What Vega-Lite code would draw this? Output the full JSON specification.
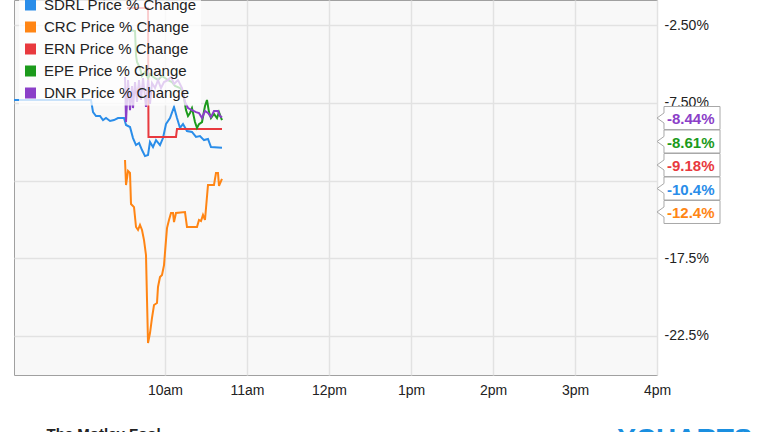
{
  "$schema": "https://vega.github.io/schema/vega-lite/v6.json",
  "width": 643,
  "height": 375,
  "autosize": {"type": "none"},
  "padding": {"left": 14, "top": 0, "right": 107, "bottom": 57},
  "background": "white",
  "config": {
    "font": "Liberation Sans",
    "view": {"stroke": "#a0a0a0", "fill": "#f8f8f8", "strokeWidth": 1},
    "locale": {"number": {"decimal": ".", "thousands": ",", "grouping": [3], "currency": ["$", ""], "minus": "-", "percent": "%"}}
  },
  "datasets": {
    "prices": [
      {"sym": "SDRL", "t": "2016-02-01T08:09:30", "v": -0.0732},
      {"sym": "SDRL", "t": "2016-02-01T09:05:51", "v": -0.0732},
      {"sym": "SDRL", "t": "2016-02-01T09:07:20", "v": -0.0810},
      {"sym": "SDRL", "t": "2016-02-01T09:09:30", "v": -0.0835},
      {"sym": "SDRL", "t": "2016-02-01T09:12:25", "v": -0.0835},
      {"sym": "SDRL", "t": "2016-02-01T09:14:38", "v": -0.0861},
      {"sym": "SDRL", "t": "2016-02-01T09:16:50", "v": -0.0848},
      {"sym": "SDRL", "t": "2016-02-01T09:19:46", "v": -0.0867},
      {"sym": "SDRL", "t": "2016-02-01T09:22:40", "v": -0.0861},
      {"sym": "SDRL", "t": "2016-02-01T09:25:36", "v": -0.0848},
      {"sym": "SDRL", "t": "2016-02-01T09:30:00", "v": -0.0848},
      {"sym": "SDRL", "t": "2016-02-01T09:31:28", "v": -0.0893},
      {"sym": "SDRL", "t": "2016-02-01T09:34:23", "v": -0.0906},
      {"sym": "SDRL", "t": "2016-02-01T09:36:35", "v": -0.0977},
      {"sym": "SDRL", "t": "2016-02-01T09:38:47", "v": -0.1022},
      {"sym": "SDRL", "t": "2016-02-01T09:41:00", "v": -0.1009},
      {"sym": "SDRL", "t": "2016-02-01T09:43:10", "v": -0.1054},
      {"sym": "SDRL", "t": "2016-02-01T09:45:22", "v": -0.1093},
      {"sym": "SDRL", "t": "2016-02-01T09:47:34", "v": -0.1086},
      {"sym": "SDRL", "t": "2016-02-01T09:49:00", "v": -0.1002},
      {"sym": "SDRL", "t": "2016-02-01T09:51:13", "v": -0.1035},
      {"sym": "SDRL", "t": "2016-02-01T09:53:25", "v": -0.0990},
      {"sym": "SDRL", "t": "2016-02-01T09:56:20", "v": -0.1022},
      {"sym": "SDRL", "t": "2016-02-01T09:58:32", "v": -0.0977},
      {"sym": "SDRL", "t": "2016-02-01T10:00:43", "v": -0.0887},
      {"sym": "SDRL", "t": "2016-02-01T10:03:39", "v": -0.0848},
      {"sym": "SDRL", "t": "2016-02-01T10:06:35", "v": -0.0777},
      {"sym": "SDRL", "t": "2016-02-01T10:08:46", "v": -0.0848},
      {"sym": "SDRL", "t": "2016-02-01T10:10:58", "v": -0.0912},
      {"sym": "SDRL", "t": "2016-02-01T10:13:10", "v": -0.0887},
      {"sym": "SDRL", "t": "2016-02-01T10:16:05", "v": -0.0932},
      {"sym": "SDRL", "t": "2016-02-01T10:19:44", "v": -0.0938},
      {"sym": "SDRL", "t": "2016-02-01T10:22:40", "v": -0.0970},
      {"sym": "SDRL", "t": "2016-02-01T10:25:36", "v": -0.0964},
      {"sym": "SDRL", "t": "2016-02-01T10:28:31", "v": -0.0990},
      {"sym": "SDRL", "t": "2016-02-01T10:31:27", "v": -0.0983},
      {"sym": "SDRL", "t": "2016-02-01T10:33:38", "v": -0.1035},
      {"sym": "SDRL", "t": "2016-02-01T10:41:41", "v": -0.1040},
      {"sym": "CRC", "t": "2016-02-01T09:30:44", "v": -0.1118},
      {"sym": "CRC", "t": "2016-02-01T09:31:28", "v": -0.1279},
      {"sym": "CRC", "t": "2016-02-01T09:32:56", "v": -0.1189},
      {"sym": "CRC", "t": "2016-02-01T09:34:23", "v": -0.1202},
      {"sym": "CRC", "t": "2016-02-01T09:35:07", "v": -0.1401},
      {"sym": "CRC", "t": "2016-02-01T09:37:19", "v": -0.1421},
      {"sym": "CRC", "t": "2016-02-01T09:38:47", "v": -0.1549},
      {"sym": "CRC", "t": "2016-02-01T09:40:15", "v": -0.1568},
      {"sym": "CRC", "t": "2016-02-01T09:41:42", "v": -0.1536},
      {"sym": "CRC", "t": "2016-02-01T09:43:10", "v": -0.1568},
      {"sym": "CRC", "t": "2016-02-01T09:44:38", "v": -0.1633},
      {"sym": "CRC", "t": "2016-02-01T09:46:05", "v": -0.1729},
      {"sym": "CRC", "t": "2016-02-01T09:46:50", "v": -0.2019},
      {"sym": "CRC", "t": "2016-02-01T09:47:34", "v": -0.2295},
      {"sym": "CRC", "t": "2016-02-01T09:49:01", "v": -0.2231},
      {"sym": "CRC", "t": "2016-02-01T09:50:29", "v": -0.2134},
      {"sym": "CRC", "t": "2016-02-01T09:51:57", "v": -0.2051},
      {"sym": "CRC", "t": "2016-02-01T09:54:08", "v": -0.2038},
      {"sym": "CRC", "t": "2016-02-01T09:54:52", "v": -0.1935},
      {"sym": "CRC", "t": "2016-02-01T09:56:20", "v": -0.1871},
      {"sym": "CRC", "t": "2016-02-01T09:57:48", "v": -0.1858},
      {"sym": "CRC", "t": "2016-02-01T09:59:16", "v": -0.1794},
      {"sym": "CRC", "t": "2016-02-01T10:00:43", "v": -0.1633},
      {"sym": "CRC", "t": "2016-02-01T10:01:27", "v": -0.1556},
      {"sym": "CRC", "t": "2016-02-01T10:02:55", "v": -0.1504},
      {"sym": "CRC", "t": "2016-02-01T10:04:23", "v": -0.1459},
      {"sym": "CRC", "t": "2016-02-01T10:05:51", "v": -0.1459},
      {"sym": "CRC", "t": "2016-02-01T10:06:35", "v": -0.1517},
      {"sym": "CRC", "t": "2016-02-01T10:08:02", "v": -0.1459},
      {"sym": "CRC", "t": "2016-02-01T10:14:37", "v": -0.1453},
      {"sym": "CRC", "t": "2016-02-01T10:16:05", "v": -0.1549},
      {"sym": "CRC", "t": "2016-02-01T10:23:24", "v": -0.1549},
      {"sym": "CRC", "t": "2016-02-01T10:24:52", "v": -0.1504},
      {"sym": "CRC", "t": "2016-02-01T10:26:20", "v": -0.1511},
      {"sym": "CRC", "t": "2016-02-01T10:27:47", "v": -0.1472},
      {"sym": "CRC", "t": "2016-02-01T10:29:15", "v": -0.1504},
      {"sym": "CRC", "t": "2016-02-01T10:31:27", "v": -0.1279},
      {"sym": "CRC", "t": "2016-02-01T10:35:50", "v": -0.1279},
      {"sym": "CRC", "t": "2016-02-01T10:37:18", "v": -0.1202},
      {"sym": "CRC", "t": "2016-02-01T10:38:46", "v": -0.1202},
      {"sym": "CRC", "t": "2016-02-01T10:39:30", "v": -0.1285},
      {"sym": "CRC", "t": "2016-02-01T10:41:41", "v": -0.1240},
      {"sym": "ERN", "t": "2016-02-01T09:32:11", "v": -0.0141},
      {"sym": "ERN", "t": "2016-02-01T09:47:34", "v": -0.0141},
      {"sym": "ERN", "t": "2016-02-01T09:47:55", "v": -0.0970},
      {"sym": "ERN", "t": "2016-02-01T10:08:02", "v": -0.0970},
      {"sym": "ERN", "t": "2016-02-01T10:08:46", "v": -0.0918},
      {"sym": "ERN", "t": "2016-02-01T10:41:41", "v": -0.0918},
      {"sym": "EPE", "t": "2016-02-01T09:34:23", "v": -0.0282},
      {"sym": "EPE", "t": "2016-02-01T09:38:03", "v": -0.0289},
      {"sym": "EPE", "t": "2016-02-01T09:38:47", "v": -0.0443},
      {"sym": "EPE", "t": "2016-02-01T09:39:31", "v": -0.0488},
      {"sym": "EPE", "t": "2016-02-01T09:41:42", "v": -0.0527},
      {"sym": "EPE", "t": "2016-02-01T09:43:10", "v": -0.0578},
      {"sym": "EPE", "t": "2016-02-01T09:45:22", "v": -0.0552},
      {"sym": "EPE", "t": "2016-02-01T09:47:34", "v": -0.0591},
      {"sym": "EPE", "t": "2016-02-01T09:49:01", "v": -0.0565},
      {"sym": "EPE", "t": "2016-02-01T09:50:29", "v": -0.0578},
      {"sym": "EPE", "t": "2016-02-01T09:52:41", "v": -0.0591},
      {"sym": "EPE", "t": "2016-02-01T09:54:52", "v": -0.0604},
      {"sym": "EPE", "t": "2016-02-01T09:57:48", "v": -0.0578},
      {"sym": "EPE", "t": "2016-02-01T09:59:59", "v": -0.0591},
      {"sym": "EPE", "t": "2016-02-01T10:02:11", "v": -0.0604},
      {"sym": "EPE", "t": "2016-02-01T10:05:07", "v": -0.0617},
      {"sym": "EPE", "t": "2016-02-01T10:07:19", "v": -0.0642},
      {"sym": "EPE", "t": "2016-02-01T10:10:58", "v": -0.0655},
      {"sym": "EPE", "t": "2016-02-01T10:13:10", "v": -0.0681},
      {"sym": "EPE", "t": "2016-02-01T10:15:21", "v": -0.0797},
      {"sym": "EPE", "t": "2016-02-01T10:16:49", "v": -0.0835},
      {"sym": "EPE", "t": "2016-02-01T10:18:17", "v": -0.0816},
      {"sym": "EPE", "t": "2016-02-01T10:19:44", "v": -0.0784},
      {"sym": "EPE", "t": "2016-02-01T10:21:56", "v": -0.0874},
      {"sym": "EPE", "t": "2016-02-01T10:23:24", "v": -0.0912},
      {"sym": "EPE", "t": "2016-02-01T10:24:52", "v": -0.0887},
      {"sym": "EPE", "t": "2016-02-01T10:27:04", "v": -0.0874},
      {"sym": "EPE", "t": "2016-02-01T10:29:15", "v": -0.0771},
      {"sym": "EPE", "t": "2016-02-01T10:30:43", "v": -0.0732},
      {"sym": "EPE", "t": "2016-02-01T10:32:11", "v": -0.0810},
      {"sym": "EPE", "t": "2016-02-01T10:33:38", "v": -0.0848},
      {"sym": "EPE", "t": "2016-02-01T10:35:50", "v": -0.0822},
      {"sym": "EPE", "t": "2016-02-01T10:38:02", "v": -0.0848},
      {"sym": "EPE", "t": "2016-02-01T10:39:30", "v": -0.0810},
      {"sym": "EPE", "t": "2016-02-01T10:41:41", "v": -0.0861},
      {"sym": "DNR", "t": "2016-02-01T09:30:44", "v": -0.0584},
      {"sym": "DNR", "t": "2016-02-01T09:31:28", "v": -0.0874},
      {"sym": "DNR", "t": "2016-02-01T09:32:56", "v": -0.0604},
      {"sym": "DNR", "t": "2016-02-01T09:34:23", "v": -0.0797},
      {"sym": "DNR", "t": "2016-02-01T09:35:51", "v": -0.0642},
      {"sym": "DNR", "t": "2016-02-01T09:36:35", "v": -0.0784},
      {"sym": "DNR", "t": "2016-02-01T09:38:03", "v": -0.0617},
      {"sym": "DNR", "t": "2016-02-01T09:39:31", "v": -0.0745},
      {"sym": "DNR", "t": "2016-02-01T09:40:58", "v": -0.0604},
      {"sym": "DNR", "t": "2016-02-01T09:42:26", "v": -0.0732},
      {"sym": "DNR", "t": "2016-02-01T09:43:54", "v": -0.0591},
      {"sym": "DNR", "t": "2016-02-01T09:46:05", "v": -0.0777},
      {"sym": "DNR", "t": "2016-02-01T09:47:34", "v": -0.0604},
      {"sym": "DNR", "t": "2016-02-01T09:49:01", "v": -0.0758},
      {"sym": "DNR", "t": "2016-02-01T09:50:29", "v": -0.0623},
      {"sym": "DNR", "t": "2016-02-01T09:52:41", "v": -0.0655},
      {"sym": "DNR", "t": "2016-02-01T09:54:52", "v": -0.0604},
      {"sym": "DNR", "t": "2016-02-01T09:57:04", "v": -0.0655},
      {"sym": "DNR", "t": "2016-02-01T09:59:16", "v": -0.0617},
      {"sym": "DNR", "t": "2016-02-01T10:02:11", "v": -0.0604},
      {"sym": "DNR", "t": "2016-02-01T10:04:23", "v": -0.0584},
      {"sym": "DNR", "t": "2016-02-01T10:06:35", "v": -0.0629},
      {"sym": "DNR", "t": "2016-02-01T10:09:30", "v": -0.0604},
      {"sym": "DNR", "t": "2016-02-01T10:12:26", "v": -0.0655},
      {"sym": "DNR", "t": "2016-02-01T10:14:37", "v": -0.0745},
      {"sym": "DNR", "t": "2016-02-01T10:16:49", "v": -0.0784},
      {"sym": "DNR", "t": "2016-02-01T10:19:44", "v": -0.0797},
      {"sym": "DNR", "t": "2016-02-01T10:22:40", "v": -0.0810},
      {"sym": "DNR", "t": "2016-02-01T10:24:52", "v": -0.0816},
      {"sym": "DNR", "t": "2016-02-01T10:27:04", "v": -0.0848},
      {"sym": "DNR", "t": "2016-02-01T10:29:15", "v": -0.0803},
      {"sym": "DNR", "t": "2016-02-01T10:31:27", "v": -0.0816},
      {"sym": "DNR", "t": "2016-02-01T10:33:38", "v": -0.0842},
      {"sym": "DNR", "t": "2016-02-01T10:35:50", "v": -0.0803},
      {"sym": "DNR", "t": "2016-02-01T10:38:46", "v": -0.0803},
      {"sym": "DNR", "t": "2016-02-01T10:40:14", "v": -0.0835},
      {"sym": "DNR", "t": "2016-02-01T10:41:41", "v": -0.0844}
    ],
    "last": [
      {"sym": "DNR", "last": -0.0844},
      {"sym": "EPE", "last": -0.0861},
      {"sym": "ERN", "last": -0.0918},
      {"sym": "SDRL", "last": -0.104},
      {"sym": "CRC", "last": -0.124}
    ]
  },
  "resolve": {"scale": {"y": "independent"}},
  "layer": [
    {
      "data": {"name": "prices"},
      "mark": {"type": "line", "strokeWidth": 2, "clip": true},
      "encoding": {
        "x": {
          "field": "t", "type": "temporal",
          "scale": {"domain": [
            {"year": 2016, "month": 2, "date": 1, "hours": 8, "minutes": 9, "seconds": 30},
            {"year": 2016, "month": 2, "date": 1, "hours": 16}
          ]},
          "axis": {
            "title": "YCHARTS",
            "titleX": 738, "titleY": 72, "titleAlign": "right", "titleAnchor": null,
            "titleBaseline": "alphabetic", "titleFontSize": 28, "titleFontWeight": "bold",
            "titleColor": "#1a8fe0",
            "values": [
              {"year": 2016, "month": 2, "date": 1, "hours": 10},
              {"year": 2016, "month": 2, "date": 1, "hours": 11},
              {"year": 2016, "month": 2, "date": 1, "hours": 12},
              {"year": 2016, "month": 2, "date": 1, "hours": 13},
              {"year": 2016, "month": 2, "date": 1, "hours": 14},
              {"year": 2016, "month": 2, "date": 1, "hours": 15},
              {"year": 2016, "month": 2, "date": 1, "hours": 16}
            ],
            "labelExpr": "lower(timeFormat(datum.value, '%-I%p'))",
            "labelFontSize": 14, "labelColor": "#222", "labelPadding": 8,
            "ticks": false, "domain": false,
            "grid": true, "gridColor": "#e2e2e2", "gridWidth": 1.5,
            "labelFlush": false, "labelOverlap": false
          }
        },
        "y": {
          "field": "v", "type": "quantitative",
          "scale": {"domain": [-0.2501, -0.0089], "nice": false, "zero": false},
          "axis": {
            "orient": "right",
            "title": "The Motley Fool",
            "titleX": -611, "titleY": 438, "titleAngle": 0, "titleAlign": "left",
            "titleBaseline": "alphabetic", "titleFontSize": 15, "titleFontWeight": "bold",
            "titleColor": "#222",
            "values": [-0.025, -0.075, -0.125, -0.175, -0.225],
            "format": ".3p",
            "labelExpr": "abs(datum.value + 0.125) < 0.000001 ? '' : datum.label",
            "labelFontSize": 14, "labelColor": "#222", "labelPadding": 7,
            "ticks": false, "domain": false,
            "grid": true, "gridColor": "#e2e2e2", "gridWidth": 1.5,
            "labelFlush": false, "labelOverlap": false
          }
        },
        "color": {
          "field": "sym", "type": "nominal",
          "scale": {
            "domain": ["SDRL", "CRC", "ERN", "EPE", "DNR"],
            "range": ["#2a8de9", "#ff8514", "#e8393e", "#1b9a1b", "#8b3fc8"]
          },
          "legend": {
            "title": null, "orient": "none", "legendX": 5, "legendY": -6.5,
            "symbolType": "square", "symbolSize": 121, "symbolStrokeWidth": 0,
            "labelFontSize": 15, "labelColor": "#222", "labelOffset": 6,
            "rowPadding": 6, "padding": 4,
            "fillColor": "rgba(255,255,255,0.75)",
            "labelExpr": "datum.label + ' Price % Change'",
            "encode": {"symbols": {"update": {"fill": {"scale": "color", "field": "value"}, "strokeWidth": {"value": 0}, "opacity": {"value": 1}}}}
          }
        }
      }
    },
    {
      "data": {"name": "last"},
      "mark": {
        "type": "point", "filled": true, "fill": "white", "stroke": "#a8a8a8", "strokeWidth": 1, "opacity": 1,
        "size": 3600,
        "shape": "M0,0L0.2333,-0.1667L0.2333,-0.3833L2.1,-0.3833L2.1,0.3833L0.2333,0.3833L0.2333,0.1667Z"
      },
      "encoding": {
        "x": {"datum": {"year": 2016, "month": 2, "date": 1, "hours": 16}, "type": "temporal"},
        "y": {
          "field": "sym", "type": "nominal",
          "scale": {"type": "point", "domain": ["DNR", "EPE", "ERN", "SDRL", "CRC"], "range": [118, 212], "padding": 0},
          "axis": null
        }
      }
    },
    {
      "data": {"name": "last"},
      "mark": {"type": "text", "align": "left", "baseline": "middle", "dx": 10, "dy": 1, "fontSize": 15, "fontWeight": "bold"},
      "encoding": {
        "x": {"datum": {"year": 2016, "month": 2, "date": 1, "hours": 16}, "type": "temporal"},
        "y": {
          "field": "sym", "type": "nominal",
          "scale": {"type": "point", "domain": ["DNR", "EPE", "ERN", "SDRL", "CRC"], "range": [118, 212], "padding": 0},
          "axis": null
        },
        "text": {"field": "last", "type": "quantitative", "format": ".3p"},
        "color": {"field": "sym", "type": "nominal", "legend": null}
      }
    }
  ]
}
